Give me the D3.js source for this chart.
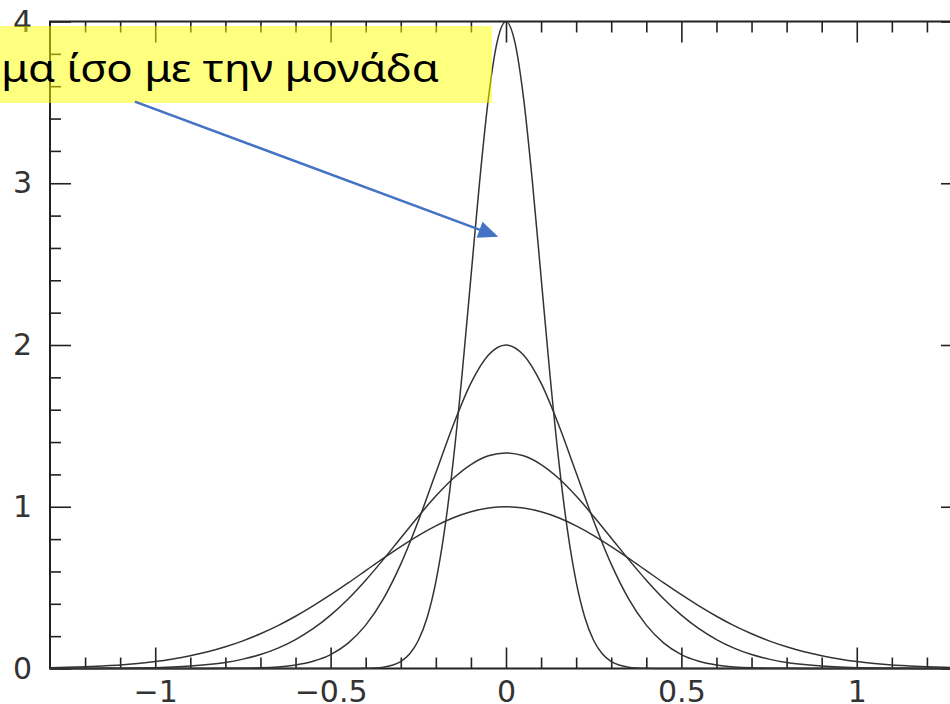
<!DOCTYPE html>
<html>
<head>
<meta charset="utf-8">
<script src="https://cdn.jsdelivr.net/npm/d3@7"></script>
<style>
  html, body { margin: 0; padding: 0; background: #fff; }
  svg { display: block; }
</style>
</head>
<body>
<svg id="chart" width="950" height="704"></svg>
<script>
// ---------------- data ----------------
const xWide = [-1.3,-1.25,-1.2,-1.15,-1.1,-1.05,-1,-0.95,-0.9,-0.85,-0.8,-0.75,-0.7,-0.65,-0.6,-0.55,-0.5,-0.45,-0.4,-0.35,-0.3,-0.25,-0.2,-0.15,-0.1,-0.05,0,
               0.05,0.1,0.15,0.2,0.25,0.3,0.35,0.4,0.45,0.5,0.55,0.6,0.65,0.7,0.75,0.8,0.85,0.9,0.95,1,1.05,1.1,1.15,1.2,1.25,1.3];

// curve with peak 1
const seriesPeak1 = [0.005,0.007,0.011,0.016,0.022,0.031,0.043,0.059,0.079,0.103,0.134,0.171,0.215,0.265,0.323,0.387,0.456,0.529,0.605,0.681,0.754,0.822,0.882,0.932,0.969,0.992,1,
                     0.992,0.969,0.932,0.882,0.822,0.754,0.681,0.605,0.529,0.456,0.387,0.323,0.265,0.215,0.171,0.134,0.103,0.079,0.059,0.043,0.031,0.022,0.016,0.011,0.007,0.005];
// curve with peak 4/3
const seriesPeak133 = [0,0,0,0.001,0.002,0.003,0.005,0.009,0.015,0.024,0.037,0.058,0.086,0.126,0.179,0.246,0.330,0.430,0.546,0.673,0.807,0.940,1.066,1.176,1.261,1.315,1.333,
                       1.315,1.261,1.176,1.066,0.940,0.807,0.673,0.546,0.430,0.330,0.246,0.179,0.126,0.086,0.058,0.037,0.024,0.015,0.009,0.005,0.003,0.002,0.001,0,0,0];
// curve with peak 2
const seriesPeak2 = [0,0,0,0,0,0,0,0,0,0,0.001,0.002,0.004,0.010,0.022,0.045,0.086,0.157,0.268,0.429,0.645,0.912,1.210,1.507,1.764,1.938,2,
                     1.938,1.764,1.507,1.210,0.912,0.645,0.429,0.268,0.157,0.086,0.045,0.022,0.010,0.004,0.002,0.001,0,0,0,0,0,0,0,0,0,0];

const xNarrow = [-1.3,-0.45,-0.425,-0.4,-0.375,-0.35,-0.325,-0.3,-0.275,-0.25,-0.225,-0.2,-0.175,-0.15,-0.125,-0.1,-0.075,-0.05,-0.025,0,
                 0.025,0.05,0.075,0.1,0.125,0.15,0.175,0.2,0.225,0.25,0.275,0.3,0.325,0.35,0.375,0.4,0.425,0.45,1.3];
// curve with peak 4
const seriesPeak4 = [0,0,0,0.001,0.003,0.008,0.020,0.043,0.089,0.173,0.314,0.536,0.858,1.291,1.824,2.420,3.015,3.528,3.876,4,
                     3.876,3.528,3.015,2.420,1.824,1.291,0.858,0.536,0.314,0.173,0.089,0.043,0.020,0.008,0.003,0.001,0,0,0];

const xMajorTicks = [-1,-0.5,0,0.5,1];
const xMinorTicks = [-1.2,-1.1,-0.9,-0.8,-0.7,-0.6,-0.4,-0.3,-0.2,-0.1,0.1,0.2,0.3,0.4,0.6,0.7,0.8,0.9,1.1,1.2];
const yMajorTicks = [0,1,2,3,4];
const yMinorTicks = [0.2,0.4,0.6,0.8,1.2,1.4,1.6,1.8,2.2,2.4,2.6,2.8,3.2,3.4,3.6,3.8];

const annotationText = "μα ίσο με την μονάδα";

// ---------------- drawing ----------------
const svg = d3.select("#chart");
const x = d3.scaleLinear().domain([-1.3, 1.3]).range([50, 962]);
const y = d3.scaleLinear().domain([0, 4]).range([668.5, 21.5]);

const tickColor = "#222";
const labelFont = "DejaVu Sans, Liberation Sans, sans-serif";

function styleAxis(g, withLabels) {
  g.select(".domain").remove();
  g.selectAll(".tick line").attr("stroke", tickColor).attr("stroke-width", 1.6);
  if (withLabels) {
    g.selectAll(".tick text").attr("fill", "#333").style("font-family", labelFont).style("font-size", "30px");
  } else {
    g.selectAll(".tick text").remove();
  }
}

const fmt = d3.format("");

// bottom
svg.append("g").attr("transform", `translate(0,${y(0)})`)
  .call(d3.axisBottom(x).tickValues(xMajorTicks).tickSizeInner(-21).tickSizeOuter(0).tickPadding(12).tickFormat(fmt))
  .call(g => styleAxis(g, true));
svg.append("g").attr("transform", `translate(0,${y(0)})`)
  .call(d3.axisBottom(x).tickValues(xMinorTicks).tickSizeInner(-11).tickSizeOuter(0).tickFormat(""))
  .call(g => styleAxis(g, false));
// top
svg.append("g").attr("transform", `translate(0,${y(4)})`)
  .call(d3.axisTop(x).tickValues(xMajorTicks).tickSizeInner(-21).tickSizeOuter(0))
  .call(g => styleAxis(g, false));
svg.append("g").attr("transform", `translate(0,${y(4)})`)
  .call(d3.axisTop(x).tickValues(xMinorTicks).tickSizeInner(-11).tickSizeOuter(0))
  .call(g => styleAxis(g, false));
// left
svg.append("g").attr("transform", `translate(${x(-1.3)},0)`)
  .call(d3.axisLeft(y).tickValues(yMajorTicks).tickSizeInner(-21).tickSizeOuter(0).tickPadding(18).tickFormat(fmt))
  .call(g => styleAxis(g, true));
svg.append("g").attr("transform", `translate(${x(-1.3)},0)`)
  .call(d3.axisLeft(y).tickValues(yMinorTicks).tickSizeInner(-11).tickSizeOuter(0))
  .call(g => styleAxis(g, false));
// right
svg.append("g").attr("transform", `translate(${x(1.3)},0)`)
  .call(d3.axisRight(y).tickValues(yMajorTicks).tickSizeInner(-21).tickSizeOuter(0))
  .call(g => styleAxis(g, false));
svg.append("g").attr("transform", `translate(${x(1.3)},0)`)
  .call(d3.axisRight(y).tickValues(yMinorTicks).tickSizeInner(-11).tickSizeOuter(0))
  .call(g => styleAxis(g, false));

// frame
svg.append("rect")
  .attr("x", x(-1.3)).attr("y", y(4))
  .attr("width", x(1.3) - x(-1.3)).attr("height", y(0) - y(4))
  .attr("fill", "none").attr("stroke", tickColor).attr("stroke-width", 2);

// curves
const line = d3.line().x(d => x(d[0])).y(d => y(d[1])).curve(d3.curveMonotoneX);
const curves = [
  xWide.map((v, i) => [v, seriesPeak1[i]]),
  xWide.map((v, i) => [v, seriesPeak133[i]]),
  xWide.map((v, i) => [v, seriesPeak2[i]]),
  xNarrow.map((v, i) => [v, seriesPeak4[i]])
];
svg.append("g").selectAll("path").data(curves).join("path")
  .attr("d", line)
  .attr("fill", "none")
  .attr("stroke", "#333")
  .attr("stroke-width", 1.5);

// annotation box (semi-transparent yellow)
svg.append("rect")
  .attr("x", 0).attr("y", 26).attr("width", 492).attr("height", 77)
  .attr("fill", "#ffff00").attr("fill-opacity", 0.5);
svg.append("text")
  .attr("x", 1).attr("y", 82)
  .attr("textLength", 438).attr("lengthAdjust", "spacingAndGlyphs")
  .style("font-family", "'Comic Sans MS', 'Noto Sans', sans-serif")
  .style("font-size", "38px")
  .attr("fill", "#000")
  .text(annotationText);

// arrow
const arrowStart = [x(-1.058), y(3.505)];
const arrowTip = [x(-0.022), y(2.67)];
const dx = arrowTip[0] - arrowStart[0], dy = arrowTip[1] - arrowStart[1];
const len = Math.hypot(dx, dy);
const ux = dx / len, uy = dy / len;
const headLen = 20, headHalf = 8.5;
const base = [arrowTip[0] - ux * headLen, arrowTip[1] - uy * headLen];
svg.append("line")
  .attr("x1", arrowStart[0]).attr("y1", arrowStart[1])
  .attr("x2", base[0] + ux * 2).attr("y2", base[1] + uy * 2)
  .attr("stroke", "#4472c4").attr("stroke-width", 2.5);
svg.append("polygon")
  .attr("points", [
    arrowTip,
    [base[0] - uy * headHalf, base[1] + ux * headHalf],
    [base[0] + uy * headHalf, base[1] - ux * headHalf]
  ].map(p => p.join(",")).join(" "))
  .attr("fill", "#4472c4");
</script>
</body>
</html>
